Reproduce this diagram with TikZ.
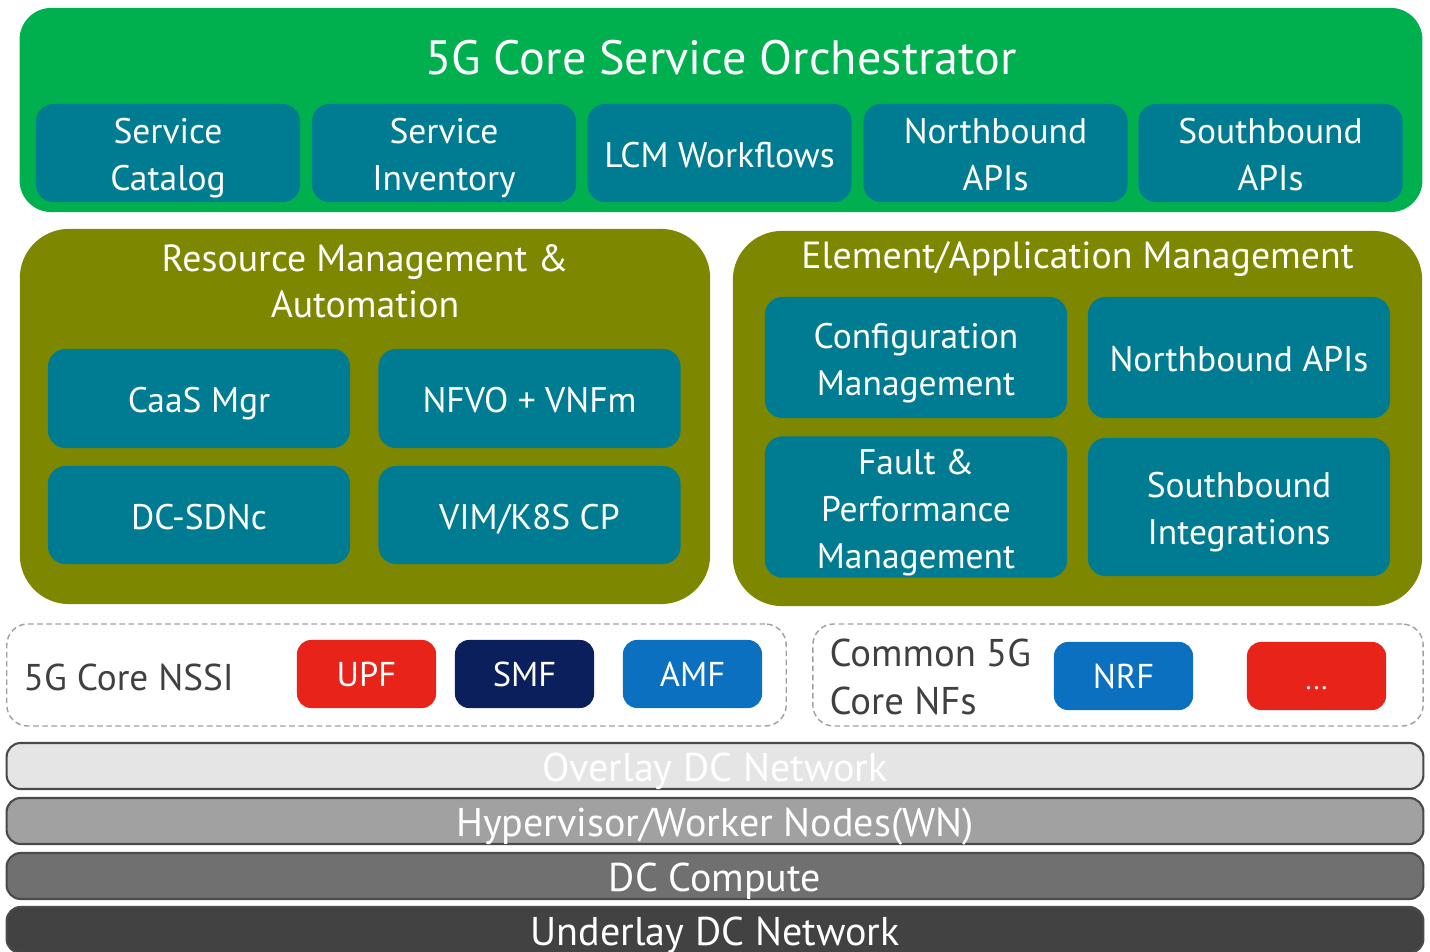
\documentclass[tikz,border=0pt]{standalone}
\usepackage{fontspec}
\setmainfont{PT Sans}
\usepackage{xcolor}
\usetikzlibrary{positioning}
\definecolor{orchgreen}{HTML}{00B04F}
\definecolor{boxteal}{HTML}{007C92}
\definecolor{mgmtolive}{HTML}{7E8700}
\definecolor{nfred}{HTML}{E8231A}
\definecolor{nfnavy}{HTML}{0A1F5C}
\definecolor{nfblue}{HTML}{0C70C0}
\definecolor{layerline}{HTML}{4A4A4A}
\definecolor{txtdark}{HTML}{404040}
% struts for multi-line box texts
\newcommand{\boxtopstrut}{\rule{0pt}{10.8pt}}
\newcommand{\boxbotstrut}{\rule[-2.6pt]{0pt}{2.6pt}}
\tikzset{
  tbox/.style={
    rectangle, rounded corners=5pt, fill=boxteal, text=white,
    align=center, inner sep=0pt,
    font=\fontsize{10.1}{13.4}\selectfont,
    execute at begin node={\boxtopstrut},
    execute at end node={\boxbotstrut}
  },
  bigbox/.style={
    rectangle, rounded corners=#1, inner sep=0pt
  },
  boxtitle/.style={
    text=white, align=center, inner sep=0pt,
    font=\fontsize{10.75}{13.2}\selectfont
  },
  nfbox/.style={
    rectangle, rounded corners=4pt, fill=#1, text=white,
    minimum width=1.39cm, minimum height=0.68cm, inner sep=0pt,
    font=\fontsize{9.8}{12}\selectfont
  },
  slicebox/.style={
    rectangle, rounded corners=6pt, draw=gray!75,
    dash pattern=on 1.6pt off 1pt, thin,
    inner sep=0pt, minimum height=1.02cm
  },
  layer/.style={
    rectangle, rounded corners=4pt, fill=#1, draw=layerline,
    line width=0.6pt, minimum width=14.16cm, minimum height=0.46cm,
    inner sep=0pt, text=white, font=\fontsize{11.4}{12}\selectfont,
    text height=9pt, text depth=0pt
  }
}
\begin{document}
\begin{tikzpicture}[x=0.01cm, y=-0.01cm]
    \useasboundingbox (0,0) rectangle (1430,952);

    % Orchestrator
    \node[bigbox=9pt, fill=orchgreen, minimum width=14.02cm,
          minimum height=2.04cm] (orch) at (721,110) {};
    \node[boxtitle, font=\fontsize{13.7}{16}\selectfont] (orchtitle)
      at (721,58) {5G Core Service Orchestrator};
    \foreach \x/\name/\txt in {168/cat/Service\\Catalog,
        444/inv/Service\\Inventory, 719.5/lcm/LCM Workflows,
        995.5/nbi/Northbound\\APIs, 1270.5/sbi/Southbound\\APIs}{%
      \node[tbox, minimum width=2.64cm, minimum height=0.98cm]
        (\name) at (\x,153) {\boxtopstrut\txt\boxbotstrut};}

    % Resource Management & Automation
    \node[bigbox=14pt, fill=mgmtolive, minimum width=6.9cm,
          minimum height=3.75cm] (rma) at (365,416.5) {};
    \node[boxtitle] (rmatitle) at (365,281)
      {Resource Management \&\\Automation};
    \node[tbox, minimum width=3.02cm, minimum height=0.99cm] (caas)
      at (199,398.5) {CaaS Mgr};
    \node[tbox, minimum width=3.02cm, minimum height=0.99cm] (nfvo)
      at (529.5,398.5) {NFVO + VNFm};
    \node[tbox, minimum width=3.02cm, minimum height=0.98cm] (sdnc)
      at (199,515) {DC-SDNc};
    \node[tbox, minimum width=3.02cm, minimum height=0.98cm] (vim)
      at (529.5,515) {VIM/K8S CP};

    % Element/Application Management
    \node[bigbox=14pt, fill=mgmtolive, minimum width=6.89cm,
          minimum height=3.75cm] (eam) at (1077.5,418.5) {};
    \node[boxtitle] (eamtitle) at (1077.5,259)
      {Element/Application Management};
    \node[tbox, minimum width=3.02cm, minimum height=1.21cm] (cfg)
      at (916,357.5) {\boxtopstrut Configuration\\Management\boxbotstrut};
    \node[tbox, minimum width=3.02cm, minimum height=1.21cm] (nbapi)
      at (1239,357.5) {Northbound APIs};
    \node[tbox, minimum width=3.02cm, minimum height=1.38cm] (fpm)
      at (916,507) {\boxtopstrut Fault \&\\Performance\\Management\boxbotstrut};
    \node[tbox, minimum width=3.02cm, minimum height=1.38cm] (sbint)
      at (1239,507) {\boxtopstrut Southbound\\Integrations\boxbotstrut};

    % 5G Core NSSI
    \node[slicebox, minimum width=7.79cm] (nssi) at (396.5,675) {};
    \node[anchor=west, text=txtdark, inner sep=0pt,
          font=\fontsize{10.6}{13}\selectfont] (nssititle) at (23,677)
      {5G Core NSSI};
    \node[nfbox=nfred] (upf) at (366.5,674) {UPF};
    \node[nfbox=nfnavy] (smf) at (524.5,674) {SMF};
    \node[nfbox=nfblue] (amf) at (692.5,674) {AMF};

    % Common NFs
    \node[slicebox, minimum width=6.1cm] (common) at (1118,675) {};
    \node[anchor=west, text=txtdark, align=left, inner sep=0pt,
          font=\fontsize{11}{13.6}\selectfont] (commontitle) at (829,677)
      {Common 5G\\Core NFs};
    \node[nfbox=nfblue] (nrf) at (1123.5,676) {NRF};
    \node[nfbox=nfred, font=\fontsize{8}{8}\selectfont,
          text height=7.5pt, text depth=0pt] (more) at (1316.5,676) {...};

    % Infra layers
    \node[layer={black!10}] (overlay) at (715,766) {Overlay DC Network};
    \node[layer={black!37}] (hyp) at (715,821) {Hypervisor/Worker Nodes(WN)};
    \node[layer={black!56}] (compute) at (715,876) {DC Compute};
    \node[layer={black!74}] (underlay) at (715,930) {Underlay DC Network};
\end{tikzpicture}
\end{document}
